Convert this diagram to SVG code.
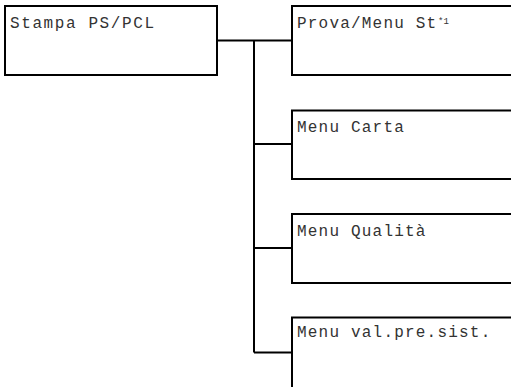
<svg xmlns="http://www.w3.org/2000/svg" width="511" height="387" viewBox="0 0 511 387">
<style>
.box{fill:#fff;stroke:#000;stroke-width:2}
.wire{fill:none;stroke:#000;stroke-width:2}
.t{font-family:"Liberation Mono","Courier New",monospace;font-size:16px;letter-spacing:1.2px;fill:#333}
.sup{font-family:"Liberation Mono","Courier New",monospace;font-size:9px;fill:#333}
</style>
<rect x="0" y="0" width="511" height="387" fill="#fff"/>
<g id="connectors">
<path class="wire" d="M217 40.5H254M254 40.5V352.5M254 40.5H292M254 144H292M254 248H292M254 352.5H292"/>
</g>
<g id="node-stampa">
<rect class="box" x="5" y="6" width="212" height="69"/>
<text class="t" x="10" y="28" style="letter-spacing:1.6px">Stampa PS/PCL</text>
</g>
<g id="node-prova">
<rect class="box" x="292" y="6" width="230" height="69"/>
<text class="t" x="297" y="28">Prova/Menu St</text>
<text class="sup" x="438" y="24">*1</text>
</g>
<g id="node-carta">
<rect class="box" x="292" y="110.5" width="230" height="68.5"/>
<text class="t" x="297" y="132">Menu Carta</text>
</g>
<g id="node-qualita">
<rect class="box" x="292" y="214" width="230" height="69"/>
<text class="t" x="297" y="236">Menu Qualità</text>
</g>
<g id="node-valpre">
<path class="box" d="M292 392V317.5H515"/>
<text class="t" x="297" y="337">Menu val.pre.sist.</text>
</g>
</svg>
